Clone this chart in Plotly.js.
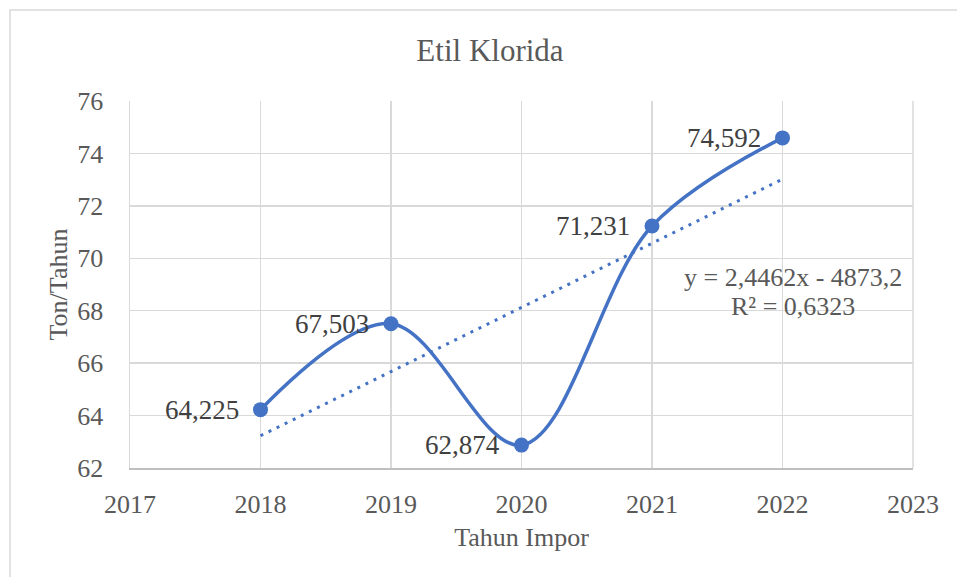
<!DOCTYPE html>
<html>
<head>
<meta charset="utf-8">
<script src="https://cdn.plot.ly/plotly-3.0.1.min.js"></script>
<style>
  html, body { margin: 0; padding: 0; background: #ffffff; }
  #chart { width: 957px; height: 577px; }
</style>
</head>
<body>
<div id="chart"></div>
<script>
// Data
var years = [2018, 2019, 2020, 2021, 2022];
var values = [64.225, 67.503, 62.874, 71.231, 74.592];
var valueLabels = ["64,225", "67,503", "62,874", "71,231", "74,592"];
// Linear trendline endpoints (as drawn in the reference)
var trendYears = [2018, 2022];
var trendValues = [63.23, 73.02];
var equationLines = ["y = 2,4462x - 4873,2", "R² = 0,6323"];
var xTicks = [2017, 2018, 2019, 2020, 2021, 2022, 2023];
var yTicks = [62, 64, 66, 68, 70, 72, 74, 76];

var blue = "#4472C4";
var textColor = "#595959";
var gridColor = "#d9d9d9";
var fontFamily = "'Liberation Serif', 'Times New Roman', serif";

var traces = [
  {
    x: trendYears,
    y: trendValues,
    mode: "lines",
    line: { color: blue, width: 3, dash: "3px,6px" },
    hoverinfo: "skip",
    showlegend: false
  },
  {
    x: years,
    y: values,
    mode: "lines+markers",
    line: { color: blue, width: 3.5, shape: "spline", smoothing: 1 },
    marker: { color: blue, size: 15 },
    showlegend: false
  }
];

var annotations = years.map(function (yr, i) {
  return {
    x: yr, y: values[i], xref: "x", yref: "y",
    text: valueLabels[i], showarrow: false,
    xanchor: "right", yanchor: "middle", xshift: -20,
    font: { family: fontFamily, size: 27, color: "#404040" }
  };
});
annotations.push({
  x: 0.847, y: 0.520, xref: "paper", yref: "paper",
  text: equationLines[0], showarrow: false, xanchor: "center", yanchor: "middle",
  font: { family: fontFamily, size: 26, color: textColor }
});
annotations.push({
  x: 0.847, y: 0.439, xref: "paper", yref: "paper",
  text: equationLines[1], showarrow: false, xanchor: "center", yanchor: "middle",
  font: { family: fontFamily, size: 26, color: textColor }
});

var layout = {
  width: 957,
  height: 577,
  margin: { l: 130, r: 44, t: 101, b: 109, pad: 0 },
  paper_bgcolor: "#ffffff",
  plot_bgcolor: "#ffffff",
  font: { family: fontFamily, color: textColor, size: 26 },
  title: {
    text: "Etil Klorida",
    font: { family: fontFamily, size: 31, color: textColor },
    x: 0.512, xref: "container", xanchor: "center",
    y: 0.913, yref: "container", yanchor: "middle"
  },
  xaxis: {
    range: [2017, 2023],
    tickvals: xTicks,
    ticktext: xTicks.map(String),
    showgrid: true,
    gridcolor: gridColor,
    gridwidth: 1.5,
    showline: true,
    linecolor: "#bfbfbf",
    linewidth: 1.5,
    mirror: false,
    zeroline: false,
    ticks: "",
    ticklabelstandoff: 12,
    tickfont: { family: fontFamily, size: 26, color: textColor },
    title: {
      text: "Tahun Impor",
      font: { family: fontFamily, size: 26, color: textColor },
      standoff: 10
    }
  },
  yaxis: {
    range: [62, 76],
    tickvals: yTicks,
    ticktext: yTicks.map(String),
    showgrid: true,
    gridcolor: gridColor,
    gridwidth: 1.5,
    showline: true,
    linecolor: gridColor,
    linewidth: 1.5,
    zeroline: false,
    ticks: "",
    ticklabelstandoff: 20,
    tickfont: { family: fontFamily, size: 26, color: textColor },
    title: {
      text: "Ton/Tahun",
      font: { family: fontFamily, size: 26, color: textColor },
      standoff: 2
    }
  },
  annotations: annotations,
  shapes: [
    {
      type: "line", xref: "paper", yref: "paper",
      x0: 1, x1: 1, y0: 0, y1: 1,
      line: { color: gridColor, width: 1.5 }, layer: "below"
    },
    {
      type: "rect", xref: "paper", yref: "paper",
      x0: -0.1533, x1: 1.2, y0: -0.5, y1: 1.248,
      line: { color: gridColor, width: 1.5 }, layer: "below"
    }
  ]
};

Plotly.newPlot("chart", traces, layout, { staticPlot: true, displayModeBar: false });
</script>
</body>
</html>
